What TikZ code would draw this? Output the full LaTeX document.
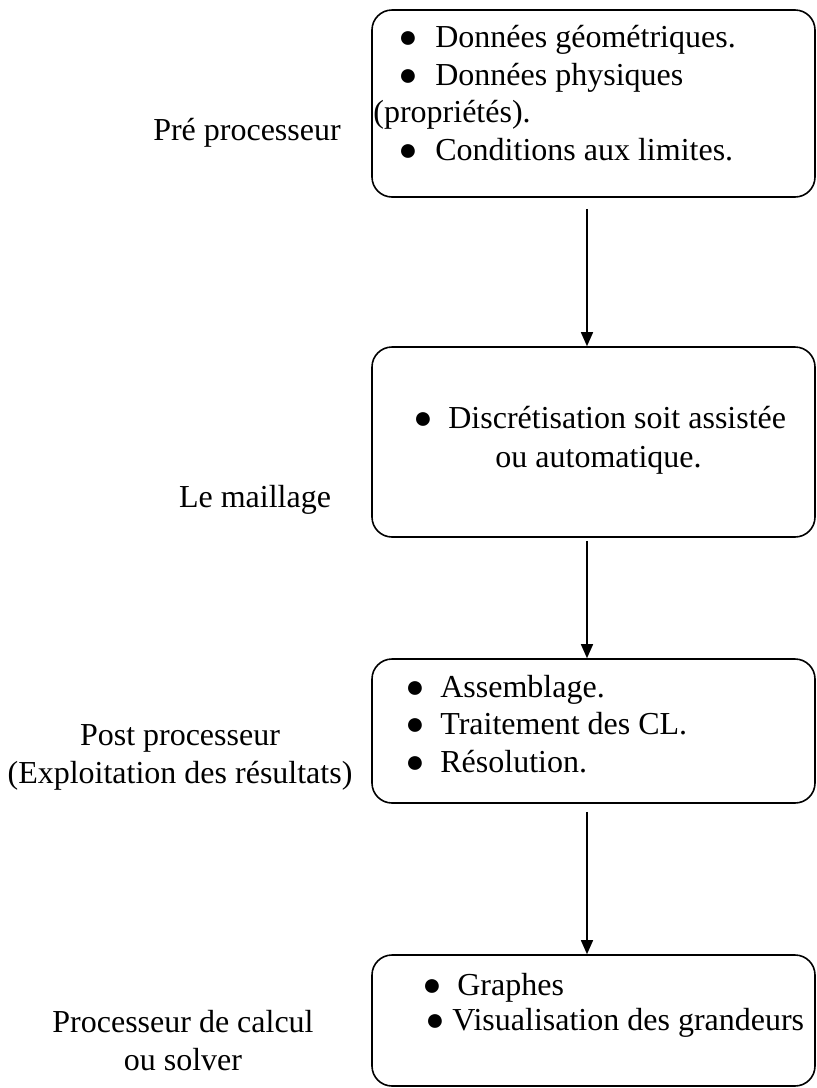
\documentclass[tikz,border=0pt]{standalone}
\usepackage{fontspec}
\setmainfont{Liberation Serif}
\usetikzlibrary{arrows.meta,calc}
\tikzset{boite/.style={draw,rectangle,rounded corners=10pt,line width=0.8pt,inner sep=0pt,minimum width=221.5pt}}
\tikzset{ligne/.style={anchor=base west,inner sep=0pt}}
\tikzset{etiq/.style={align=center,anchor=base,inner sep=0pt}}
\tikzset{fleche/.style={line width=0.75pt,-{Triangle[width=6pt,length=7pt]}}}
\newcommand{\puce}[1][17.5pt]{\makebox[#1][l]{●}}

\begin{document}
\begin{tikzpicture}[x=0.5pt,y=-0.5pt,font=\fontsize{16}{19}\selectfont]
    \useasboundingbox (0,0) rectangle (816,1088);
    % les boites
    \node [boite,minimum height=93.5pt] (pre) at (593.5,103.5) {};
    \node [boite,minimum height=95pt] (maillage) at (593.5,442) {};
    \node [boite,minimum height=72pt] (solveur) at (593.5,731) {};
    \node [boite,minimum height=65.5pt] (post) at (593.5,1020.5) {};
    % contenu
    \node [ligne] (pre1) at (398,47) {\puce[18.5pt]Données géométriques.};
    \node [ligne] (pre2) at (398,85) {\puce[18.5pt]Données physiques};
    \node [ligne] (pre3) at (373,122) {(propriétés).};
    \node [ligne] (pre4) at (398,160) {\puce[18.5pt]Conditions aux limites.};
    \node [ligne] (mail1) at (413,428) {\puce Discrétisation soit assistée};
    \node [ligne] (mail2) at (495,467) {ou automatique.};
    \node [ligne] (sol1) at (405,697) {\puce Assemblage.};
    \node [ligne] (sol2) at (405,734) {\puce Traitement des CL.};
    \node [ligne] (sol3) at (405,772) {\puce Résolution.};
    \node [ligne] (post1) at (422,995) {\puce Graphes};
    \node [ligne] (post2) at (425,1030) {\puce[13.5pt]Visualisation des grandeurs};
    % etiquettes (base = derniere ligne)
    \node [etiq] (lpre) at (247,140) {Pré processeur};
    \node [etiq] (lmail) at (255,507) {Le maillage};
    \node [etiq] (lpost) at (180,783) {Post processeur\\(Exploitation des résultats)};
    \node [etiq] (lcalc) at (183,1070) {Processeur de calcul\\ou solver};
    % fleches
    \coordinate (axe) at (587,0);
    \draw [fleche] ($(pre.south -| axe)+(0,11)$) -- (maillage.north -| axe);
    \draw [fleche] ($(maillage.south -| axe)+(0,3)$) -- (solveur.north -| axe);
    \draw [fleche] ($(solveur.south -| axe)+(0,8)$) -- (post.north -| axe);
\end{tikzpicture}
\end{document}
